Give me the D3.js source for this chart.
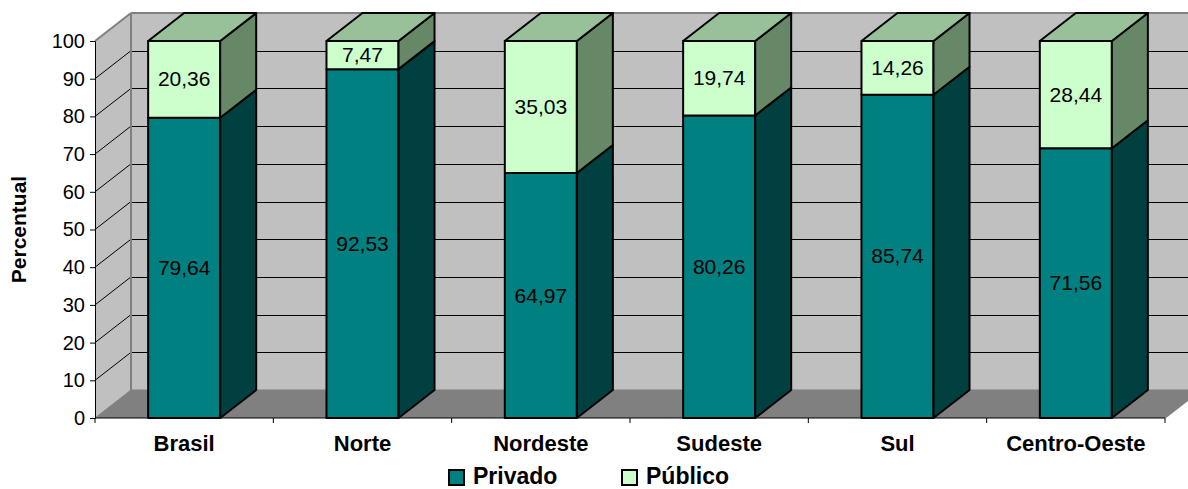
<!DOCTYPE html>
<html>
<head>
<meta charset="utf-8">
<script src="https://cdn.jsdelivr.net/npm/d3@7"></script>
<style>
  body { margin: 0; background: #fff; }
  svg { display: block; font-family: "Liberation Sans", Arial, sans-serif; }
</style>
</head>
<body>
<div id="chart"></div>
<script>
// ---------- data ----------
var categories = ["Brasil", "Norte", "Nordeste", "Sudeste", "Sul", "Centro-Oeste"];
var privado = [79.64, 92.53, 64.97, 80.26, 85.74, 71.56];
var publico = [20.36, 7.47, 35.03, 19.74, 14.26, 28.44];
var seriesNames = ["Privado", "Público"];
var yTicks = [0, 10, 20, 30, 40, 50, 60, 70, 80, 90, 100];

// ---------- layout ----------
var W = 1188, H = 489;
var plotL = 95, plotR = 1165, plotB = 418, plotT = 41;
var dx = 36, dy = -28;   // profundidade 3D
var fmt = function (v) { return v.toFixed(2).replace(".", ","); };

var x = d3.scaleBand().domain(categories).range([plotL, plotR]).paddingInner(0.596).paddingOuter(0.298);
var y = d3.scaleLinear().domain([0, 100]).range([plotB, plotT]);

var colors = {
  Privado: { front: "#008080", side: "#004040", top: "#006666" },
  "Público": { front: "#CCFFCC", side: "#668866", top: "#99C199" }
};

var svg = d3.select("#chart").append("svg")
    .attr("width", W).attr("height", H);

function poly(pts) { return "M" + pts.map(function (p) { return p.join(","); }).join("L") + "Z"; }

// ---------- paredes ----------
var walls = svg.append("g").attr("class", "walls");
walls.append("path")
    .attr("d", poly([[plotL + dx, y(100) + dy], [W + 10, y(100) + dy], [W + 10, y(0) + dy], [plotL + dx, y(0) + dy]]))
    .attr("fill", "#C0C0C0");
walls.append("path")
    .attr("d", poly([[plotL, y(100)], [plotL + dx, y(100) + dy], [plotL + dx, y(0) + dy], [plotL, y(0)]]))
    .attr("fill", "#C0C0C0");
walls.append("path")
    .attr("d", poly([[plotL, y(0)], [plotL + dx, y(0) + dy], [plotR + dx, y(0) + dy], [plotR, y(0)]]))
    .attr("fill", "#808080");

var inner = yTicks.filter(function (d) { return d > 0 && d < 100; });
var grid = svg.append("g").attr("class", "grid");
grid.selectAll("line.back").data(inner)
  .enter().append("line")
    .attr("x1", plotL + dx).attr("x2", W)
    .attr("y1", function (d) { return Math.round(y(d) + dy) + 0.5; })
    .attr("y2", function (d) { return Math.round(y(d) + dy) + 0.5; })
    .attr("stroke", "#000").attr("stroke-width", 1);
grid.append("line")
    .attr("x1", plotL + dx).attr("x2", W)
    .attr("y1", y(100) + dy).attr("y2", y(100) + dy)
    .attr("stroke", "#808080").attr("stroke-width", 2);
grid.selectAll("line.diag").data(inner)
  .enter().append("line")
    .attr("x1", plotL).attr("x2", plotL + dx)
    .attr("y1", function (d) { return y(d); }).attr("y2", function (d) { return y(d) + dy; })
    .attr("stroke", "#000").attr("stroke-width", 1);
grid.append("line")
    .attr("x1", plotL).attr("y1", y(100)).attr("x2", plotL + dx).attr("y2", y(100) + dy)
    .attr("stroke", "#808080").attr("stroke-width", 2);
grid.append("line")
    .attr("x1", plotL + dx).attr("y1", y(100) + dy).attr("x2", plotL + dx).attr("y2", y(0) + dy)
    .attr("stroke", "#808080").attr("stroke-width", 2);
grid.append("line")
    .attr("x1", plotL).attr("y1", y(0)).attr("x2", plotL + dx).attr("y2", y(0) + dy)
    .attr("stroke", "#808080").attr("stroke-width", 1);
grid.append("line")
    .attr("x1", plotL + dx).attr("y1", y(0) + dy).attr("x2", plotR + dx).attr("y2", y(0) + dy)
    .attr("stroke", "#808080").attr("stroke-width", 1);
grid.append("line")
    .attr("x1", plotR).attr("y1", y(0)).attr("x2", plotR + dx).attr("y2", y(0) + dy)
    .attr("stroke", "#808080").attr("stroke-width", 1.5);

// ---------- eixos ----------
var yAxis = d3.axisLeft(y).tickValues(yTicks).tickSize(5).tickPadding(5).tickFormat(d3.format("d"));
svg.append("g").attr("class", "y axis")
    .attr("transform", "translate(" + plotL + ",0)")
    .call(yAxis)
    .call(function (g) {
      g.select(".domain").attr("stroke", "#000").attr("stroke-width", 1);
      g.selectAll("line").attr("stroke", "#000");
      g.selectAll("text").attr("font-size", 20).attr("fill", "#000")
        .attr("font-family", "'Liberation Sans', Arial, sans-serif");
    });

var bounds = d3.range(categories.length + 1).map(function (i) { return plotL + i * (plotR - plotL) / categories.length; });
var xg = svg.append("g").attr("class", "x axis");
xg.append("line").attr("x1", plotL).attr("x2", plotR).attr("y1", plotB).attr("y2", plotB)
    .attr("stroke", "#000").attr("stroke-width", 1);
xg.selectAll("line.tick").data(bounds).enter().append("line")
    .attr("x1", function (d) { return d; }).attr("x2", function (d) { return d; })
    .attr("y1", plotB).attr("y2", plotB + 5)
    .attr("stroke", "#000");
xg.selectAll("text").data(categories).enter().append("text")
    .attr("x", function (d) { return x(d) + x.bandwidth() / 2; })
    .attr("y", 451)
    .attr("text-anchor", "middle")
    .attr("font-size", 22).attr("font-weight", "bold")
    .text(function (d) { return d; });

svg.append("text")
    .attr("transform", "translate(26," + ((plotT + plotB) / 2) + ") rotate(-90)")
    .attr("text-anchor", "middle")
    .attr("font-size", 21).attr("font-weight", "bold")
    .text("Percentual");

// ---------- barras ----------
var stacked = categories.map(function (c, i) {
  return [
    { cat: c, name: "Privado", y0: 0, y1: privado[i], v: privado[i] },
    { cat: c, name: "Público", y0: privado[i], y1: privado[i] + publico[i], v: publico[i] }
  ];
});

var bars = svg.append("g").attr("class", "bars");
stacked.forEach(function (segs) {
  var g = bars.append("g");
  segs.forEach(function (s, k) {
    var x0 = x(s.cat), x1 = x0 + x.bandwidth();
    var yb = y(s.y0), yt = y(s.y1);
    var c = colors[s.name];
    g.append("path").attr("d", poly([[x0, yb], [x1, yb], [x1, yt], [x0, yt]]))
      .attr("fill", c.front).attr("stroke", "#000").attr("stroke-width", 2).attr("stroke-linejoin", "round");
    g.append("path").attr("d", poly([[x1, yb], [x1 + dx, yb + dy], [x1 + dx, yt + dy], [x1, yt]]))
      .attr("fill", c.side).attr("stroke", "#000").attr("stroke-width", 2).attr("stroke-linejoin", "round");
    if (k === segs.length - 1) {
      g.append("path").attr("d", poly([[x0, yt], [x1, yt], [x1 + dx, yt + dy], [x0 + dx, yt + dy]]))
        .attr("fill", c.top).attr("stroke", "#000").attr("stroke-width", 2).attr("stroke-linejoin", "round");
    }
    g.append("text")
      .attr("x", (x0 + x1) / 2)
      .attr("y", (yb + yt) / 2 + 7)
      .attr("text-anchor", "middle")
      .attr("font-size", 21)
      .attr("fill", "#000")
      .text(fmt(s.v));
  });
});

// ---------- legenda ----------
var legend = svg.append("g").attr("class", "legend");
var legendX = [449, 622];
seriesNames.forEach(function (n, i) {
  legend.append("rect")
    .attr("x", legendX[i]).attr("y", 470).attr("width", 15).attr("height", 15)
    .attr("fill", colors[n].front).attr("stroke", "#000").attr("stroke-width", 2);
  legend.append("text")
    .attr("x", legendX[i] + 24).attr("y", 484)
    .attr("font-size", 23).attr("font-weight", "bold")
    .text(n);
});
</script>
</body>
</html>
